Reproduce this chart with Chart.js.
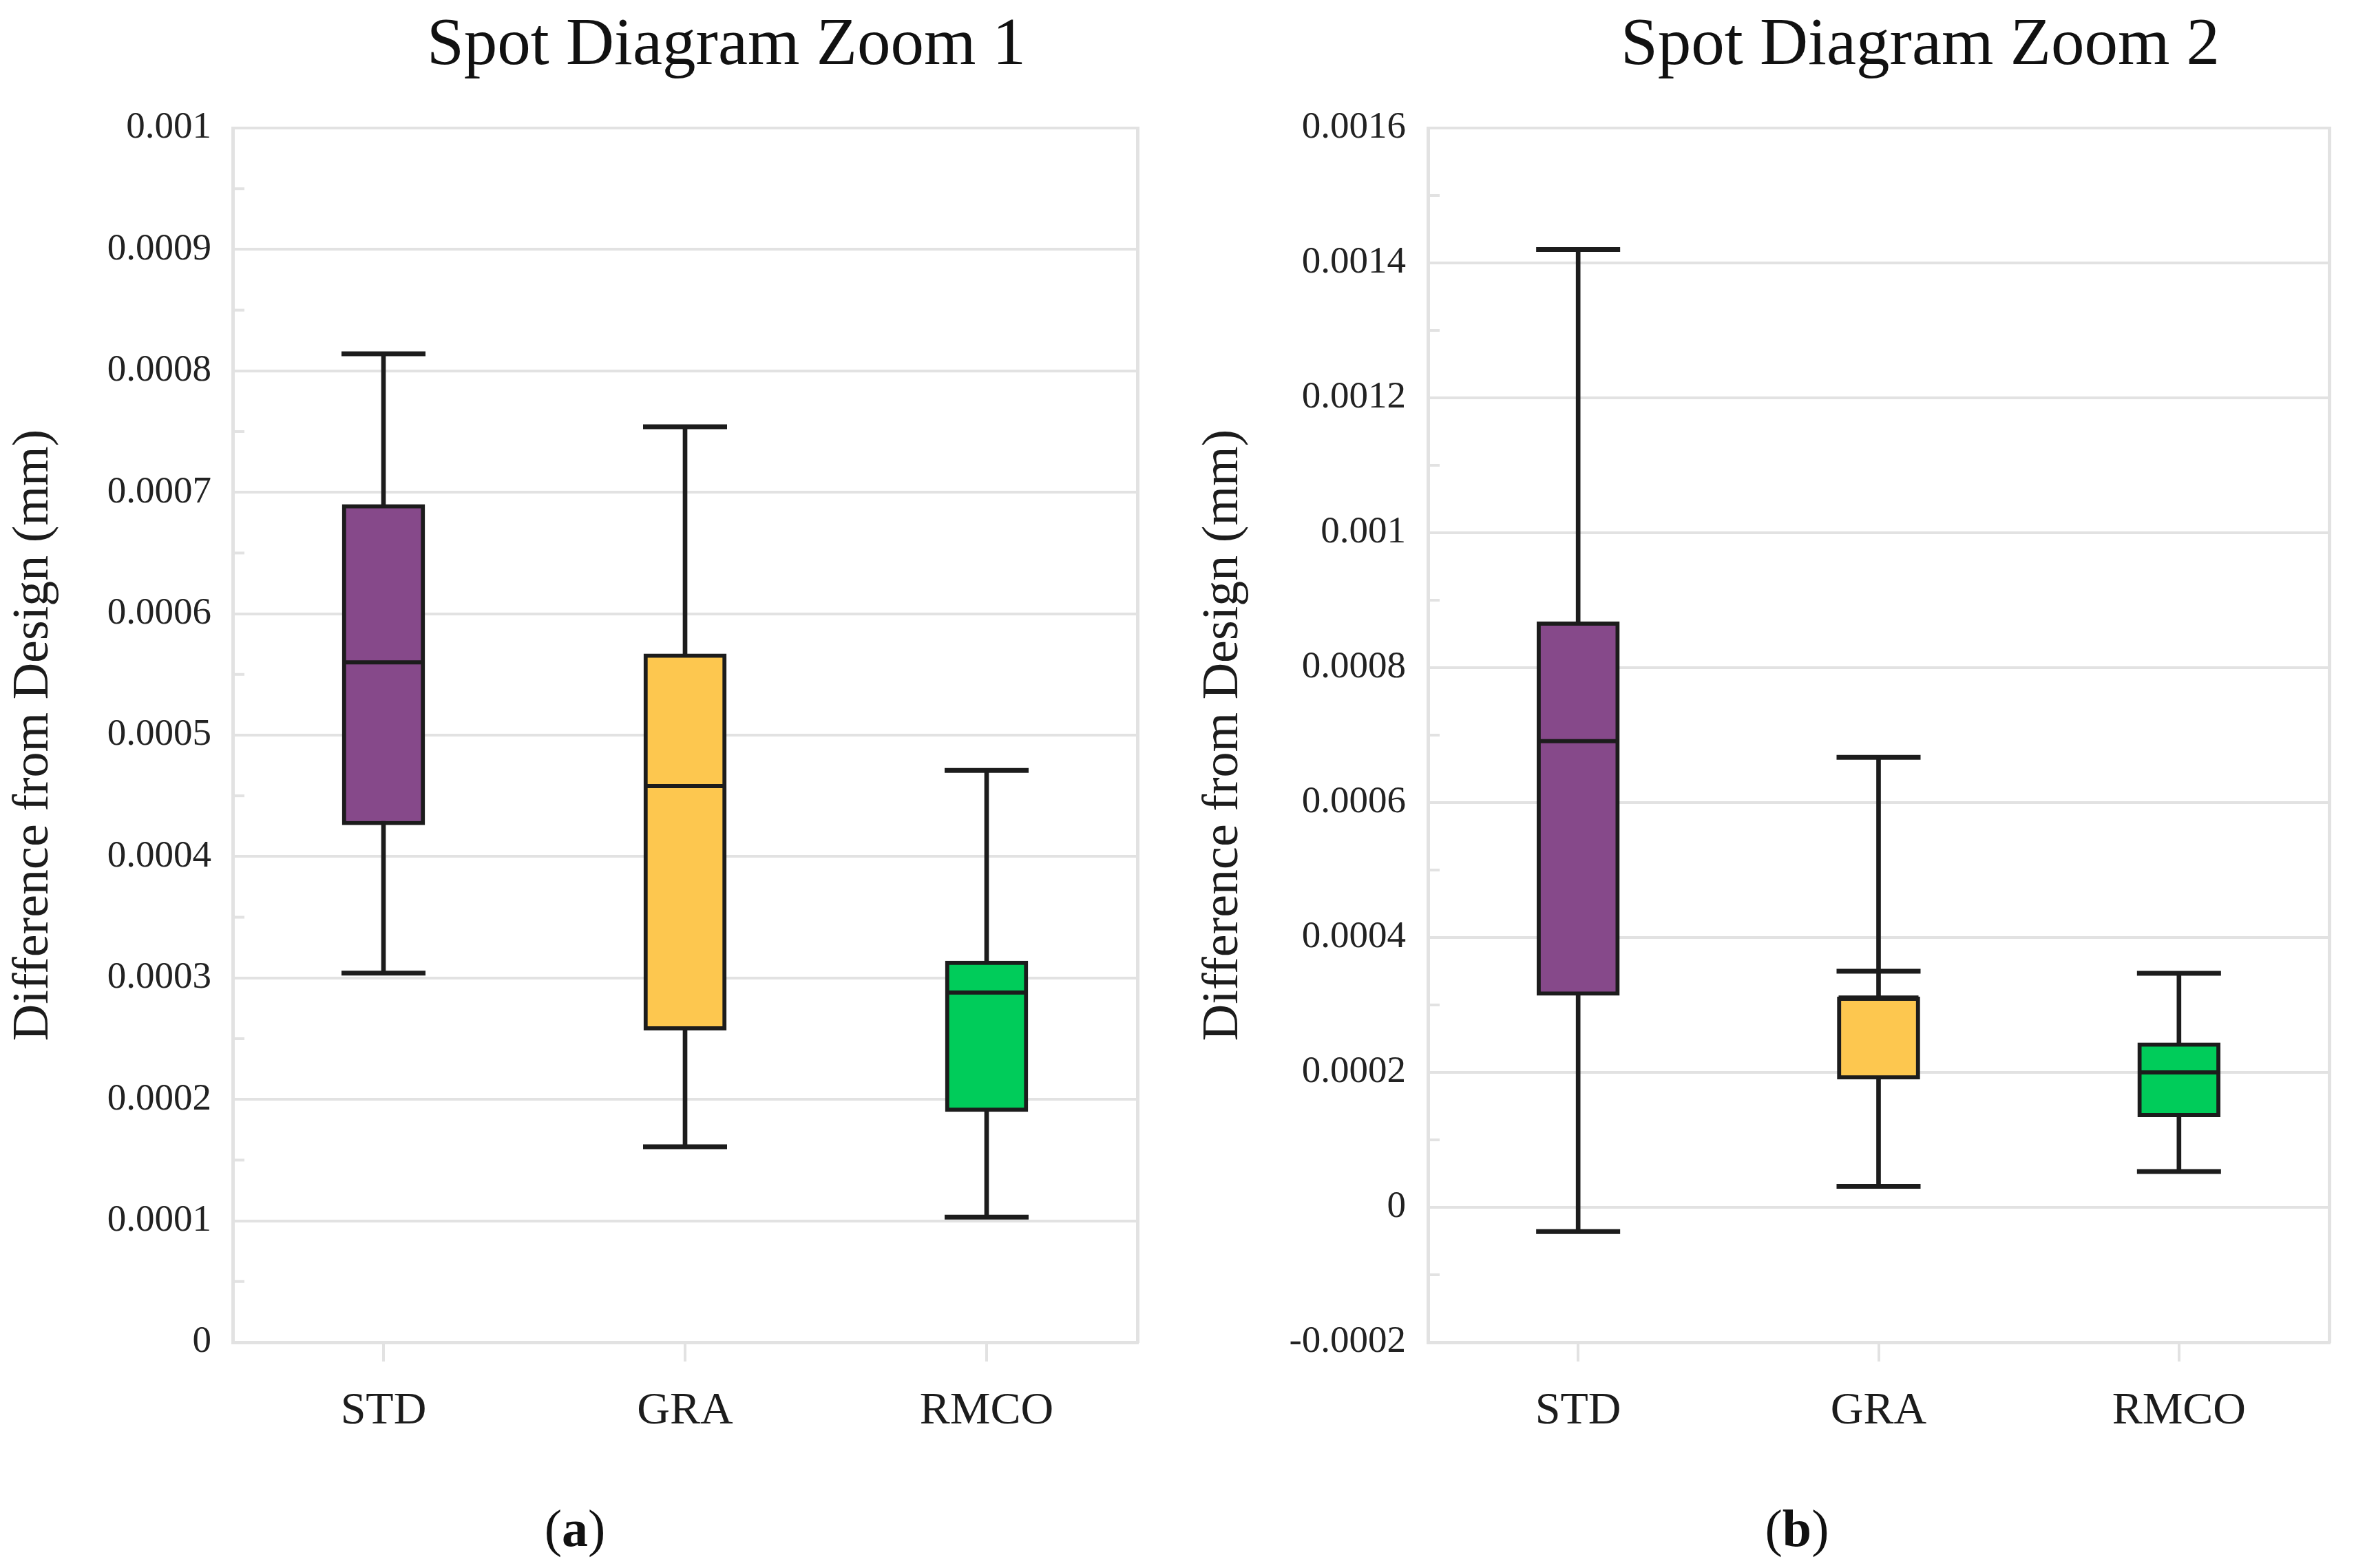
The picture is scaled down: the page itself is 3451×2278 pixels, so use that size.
<!DOCTYPE html>
<html>
<head>
<meta charset="utf-8">
<script src="https://cdn.jsdelivr.net/npm/chart.js@4.4.1/dist/chart.umd.min.js"></script>
<style>
  html, body { margin: 0; padding: 0; background: #fff; }
  body { width: 3451px; height: 2278px; position: relative; overflow: hidden; font-family: "Liberation Serif", "Times New Roman", serif; }
  canvas { position: absolute; top: 0; }
  .title { position: absolute; top: 12px; width: 1000px; text-align: center; font-size: 97px; line-height: 1; color: #111; white-space: nowrap; }
  .sub { position: absolute; top: 2182px; width: 300px; text-align: center; font-size: 76px; line-height: 1; color: #111; }
</style>
</head>
<body>
<div class="title" style="left:555px">Spot Diagram Zoom 1</div>
<div class="title" style="left:2289px">Spot Diagram Zoom 2</div>
<canvas id="c1" width="1720" height="2278" style="left:0px;width:1720px;height:2278px"></canvas>
<canvas id="c2" width="1731" height="2278" style="left:1720px;width:1731px;height:2278px"></canvas>
<div class="sub" style="left:685px">(<b>a</b>)</div>
<div class="sub" style="left:2460px">(<b>b</b>)</div>
<script>
// ---------- data ----------
const categories = ['STD', 'GRA', 'RMCO'];
const boxColors = ['#86498A', '#FDC74F', '#00CC5A'];

// (a) Spot Diagram Zoom 1
const zoom1Min    = [0.000304, 0.000161, 0.000103];
const zoom1Q1     = [0.000426, 0.000257, 0.000190];
const zoom1Median = [0.000560, 0.000458, 0.000288];
const zoom1Q3     = [0.000690, 0.000567, 0.000314];
const zoom1Max    = [0.000814, 0.000754, 0.000471];
const zoom1Extra  = [null, null, null];
const zoom1TickLabels = ['0', '0.0001', '0.0002', '0.0003', '0.0004', '0.0005', '0.0006', '0.0007', '0.0008', '0.0009', '0.001'];

// (b) Spot Diagram Zoom 2
const zoom2Min    = [-0.000036, 0.000031, 0.000053];
const zoom2Q1     = [0.000314, 0.000190, 0.000134];
const zoom2Median = [0.000691, 0.000311, 0.000200];
const zoom2Q3     = [0.000868, 0.000312, 0.000244];
const zoom2Max    = [0.001420, 0.000667, 0.000347];
const zoom2Extra  = [null, 0.000350, null];
const zoom2TickLabels = ['-0.0002', '0', '0.0002', '0.0004', '0.0006', '0.0008', '0.001', '0.0012', '0.0014', '0.0016'];

const GRID = '#e2e2e2';
const INK = '#1c1c1c';
Chart.defaults.font.family = '"Liberation Serif", "Times New Roman", serif';

const minorTicks = {
  id: 'minorTicks',
  beforeDatasetsDraw(chart) {
    const y = chart.scales.y, ctx = chart.ctx, left = chart.chartArea.left;
    ctx.save();
    ctx.strokeStyle = GRID; ctx.lineWidth = 4;
    y.ticks.forEach((t, i) => {
      if (i % 2 === 1) {
        const py = y.getPixelForTick(i);
        ctx.beginPath(); ctx.moveTo(left, py); ctx.lineTo(left + 17, py); ctx.stroke();
      }
    });
    ctx.restore();
  }
};

function makeChart(id, mins, q1, med, q3, maxs, extra, tickLabels, yMin, yMax, step, yWidth, padRight, titlePad, tickPad) {
  const pairs = (a, b) => a.map((v, i) => [v, b[i]]);
  const capDs = (data) => ({
    type: 'line', data, showLine: false, pointStyle: 'line',
    pointRadius: 61, pointHoverRadius: 61, pointBorderWidth: 7, pointHoverBorderWidth: 7,
    pointBorderColor: INK, borderColor: INK, order: 1
  });
  return new Chart(document.getElementById(id), {
    type: 'bar',
    data: {
      labels: categories,
      datasets: [
        { label: 'whisker', data: pairs(mins, maxs), backgroundColor: INK, barThickness: 6, grouped: false, order: 3 },
        { label: 'box', data: pairs(q1, q3), backgroundColor: boxColors, borderColor: INK, borderWidth: 6,
          borderSkipped: false, barThickness: 120, grouped: false, order: 2 },
        Object.assign(capDs(med), { pointRadius: 58, pointHoverRadius: 58, pointBorderWidth: 6 }),
        capDs(maxs),
        capDs(mins),
        capDs(extra)
      ]
    },
    options: {
      responsive: false,
      devicePixelRatio: 1,
      animation: false,
      events: [],
      layout: { padding: { top: 186, right: padRight, left: 0, bottom: 0 } },
      plugins: { legend: { display: false }, tooltip: { enabled: false }, title: { display: false } },
      scales: {
        x: {
          type: 'category', offset: true,
          grid: { offset: false, drawOnChartArea: false, drawTicks: true, tickLength: 28, color: GRID, tickColor: GRID, lineWidth: 4 },
          border: { display: true, color: GRID, width: 5 },
          ticks: { font: { size: 66 }, color: INK, padding: 33 },
          afterFit: (s) => { s.height = 2278 - 1950; }
        },
        y: {
          type: 'linear', min: yMin, max: yMax,
          ticks: {
            stepSize: step, autoSkip: false, padding: tickPad, color: '#222', font: { size: 55 },
            callback: (v, i) => (i % 2 === 0 ? tickLabels[i / 2] : '')
          },
          grid: { drawTicks: false, lineWidth: 4, color: (c) => (c.index % 2 === 0 ? GRID : 'rgba(0,0,0,0)') },
          border: { display: true, color: GRID, width: 5 },
          title: { display: true, text: 'Difference from Design (mm)', font: { size: 74 }, color: INK, padding: { top: titlePad, bottom: 0 } },
          afterFit: (s) => { s.width = yWidth; }
        },
        yR: {
          type: 'linear', position: 'right', min: yMin, max: yMax,
          ticks: { display: false },
          grid: { drawOnChartArea: false, drawTicks: false },
          border: { display: true, color: GRID, width: 5 },
          afterFit: (s) => { s.width = 0; }
        }
      }
    },
    plugins: [minorTicks]
  });
}

makeChart('c1', zoom1Min, zoom1Q1, zoom1Median, zoom1Q3, zoom1Max, zoom1Extra, zoom1TickLabels, 0, 0.001, 0.00005, 338, 1720 - 1660, 5, 31);
makeChart('c2', zoom2Min, zoom2Q1, zoom2Median, zoom2Q3, zoom2Max, zoom2Extra, zoom2TickLabels, -0.0002, 0.0016, 0.0001, 354, 1731 - 1704, 13, 32);
</script>
</body>
</html>
